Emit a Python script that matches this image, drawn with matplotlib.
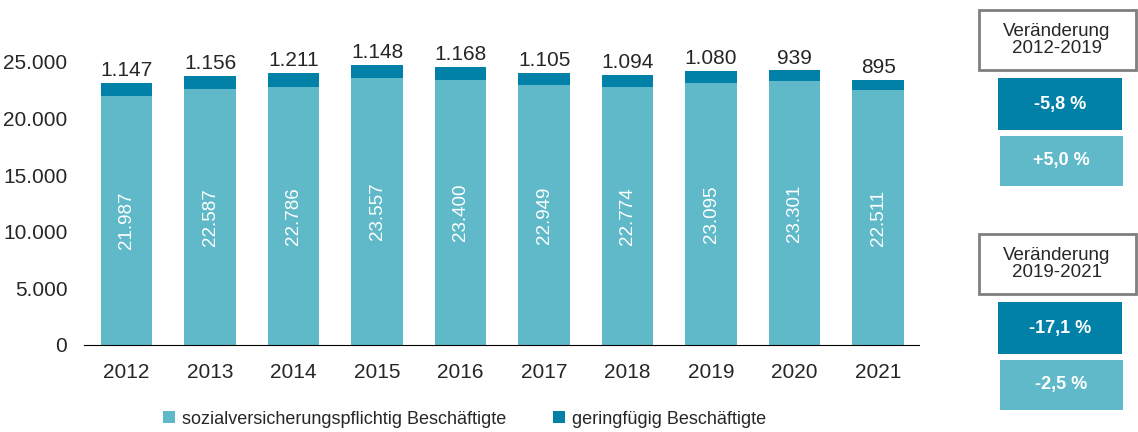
import matplotlib.pyplot as plt
import matplotlib.patches as mpatches

years = ['2012', '2013', '2014', '2015', '2016', '2017', '2018', '2019', '2020', '2021']
svb = [21987, 22587, 22786, 23557, 23400, 22949, 22774, 23095, 23301, 22511]
gfb = [1147, 1156, 1211, 1148, 1168, 1105, 1094, 1080, 939, 895]
series_names = ['sozialversicherungspflichtig Beschäftigte', 'geringfügig Beschäftigte']

periods = ['Veränderung\n2012-2019', 'Veränderung\n2019-2021']
change_gfb = ['-5,8 %', '-17,1 %']
change_svb = ['+5,0 %', '-2,5 %']

light = '#5fb9c8'
dark = '#0181a8'
txt = '#262626'

plt.rcParams['font.family'] = ['Liberation Sans', 'DejaVu Sans']


def de(v):
    return f'{v:,}'.replace(',', '.')


W, H = 1138, 432
fig = plt.figure(figsize=(W / 100, H / 100), dpi=100)
ax = fig.add_axes([84 / W, 87 / H, 835 / W, 0.729])

x = list(range(len(years)))
ax.bar(x, svb, width=0.62, color=light, label=series_names[0])
ax.bar(x, gfb, width=0.62, bottom=svb, color=dark, label=series_names[1])

for i in x:
    ax.text(i, svb[i] / 2, de(svb[i]), rotation=90, ha='center', va='center',
            color='white', fontsize=13.5)
    ax.text(i, svb[i] + gfb[i] + 250, de(gfb[i]), ha='center', va='bottom',
            color=txt, fontsize=15)

ax.set_xlim(-0.51, 9.49)
ax.set_ylim(0, 27800)
ax.set_xticks(x, years)
ax.set_yticks(range(0, 25001, 5000), [de(v) for v in range(0, 25001, 5000)])
ax.tick_params(length=0, labelsize=15, colors=txt)
ax.tick_params(axis='x', pad=13)
ax.tick_params(axis='y', pad=12)
for s in ['top', 'right', 'left']:
    ax.spines[s].set_visible(False)
ax.spines['bottom'].set_color('black')

fig.legend(loc='center left', bbox_to_anchor=(163 / W, 1 - 419 / H), ncol=2,
           frameon=False, fontsize=13, handlelength=0.66, handleheight=0.66,
           handletextpad=0.39, columnspacing=2.6, labelcolor=txt,
           borderpad=0, borderaxespad=0)


# change boxes on the right, in pixel coordinates
def box(x0, y0, x1, y1, face, edge=None, lw=0):
    r = mpatches.Rectangle((x0 / W, 1 - y1 / H), (x1 - x0) / W, (y1 - y0) / H,
                           transform=fig.transFigure, facecolor=face,
                           edgecolor=edge if edge else face, linewidth=lw)
    fig.add_artist(r)


for k, top in enumerate([10, 234]):
    box(979, top, 1136, top + 60, 'white', '#7f7f7f', 2)
    fig.text(1057 / W, 1 - (top + 30) / H, periods[k], ha='center', va='center',
             fontsize=13.5, color=txt, linespacing=1.05)
    box(998, top + 68, 1122, top + 120, dark)
    fig.text(1060 / W, 1 - (top + 94) / H, change_gfb[k], ha='center', va='center',
             fontsize=13, color='white', fontweight='bold')
    box(1000, top + 126, 1123, top + 176, light)
    fig.text(1061 / W, 1 - (top + 151) / H, change_svb[k], ha='center', va='center',
             fontsize=13, color='white', fontweight='bold')

fig.savefig('out.png', dpi=100)
